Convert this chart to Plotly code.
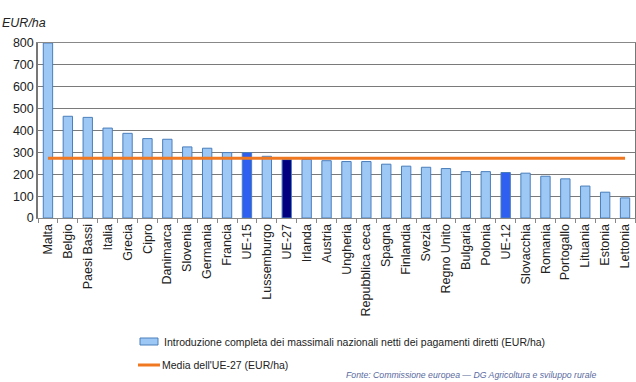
import plotly.graph_objects as go

categories = ["Malta", "Belgio", "Paesi Bassi", "Italia", "Grecia", "Cipro", "Danimarca",
              "Slovenia", "Germania", "Francia", "UE-15", "Lussemburgo", "UE-27", "Irlanda",
              "Austria", "Ungheria", "Repubblica ceca", "Spagna", "Finlandia", "Svezia",
              "Regno Unito", "Bulgaria", "Polonia", "UE-12", "Slovacchia", "Romania",
              "Portogallo", "Lituania", "Estonia", "Lettonia"]
values = [800, 465, 460, 411, 387, 363, 360, 325, 319, 299, 299, 282, 267, 268,
          262, 258, 258, 246, 237, 232, 226, 212, 212, 208, 205, 191, 179, 146, 118, 92]
eu27_mean = [273] * len(categories)
y_ticks = [0, 100, 200, 300, 400, 500, 600, 700, 800]

bar_name = "Introduzione completa dei massimali nazionali netti dei pagamenti diretti (EUR/ha)"
line_name = "Media dell'UE-27 (EUR/ha)"
source = "Fonte: Commissione europea — DG Agricoltura e sviluppo rurale"

W, H = 636, 382
L, R, T, B = 38, 1, 43, 164
PW, PH = W - L - R, H - T - B

def px_x(px):
    return (px - L) / PW

def px_y(py):
    return (H - B - py) / PH

light = "#9dc8f5"
border = "#4a7ebb"
orange = "#f07820"
colors = []
for c in categories:
    if c in ("UE-15", "UE-12"):
        colors.append("#2f5ff0")
    elif c == "UE-27":
        colors.append("#000080")
    else:
        colors.append(light)

fig = go.Figure()
fig.add_trace(go.Bar(
    x=categories, y=values,
    marker=dict(color=colors, line=dict(color=border, width=1)),
    name=bar_name, showlegend=False,
))
fig.add_trace(go.Scatter(
    x=categories, y=eu27_mean, mode="lines",
    line=dict(color=orange, width=3),
    name=line_name, showlegend=False,
))

# legend drawn manually (keys + labels)
shapes = [
    dict(type="rect", xref="paper", yref="paper",
         x0=px_x(140), x1=px_x(158), y0=px_y(345), y1=px_y(338),
         fillcolor=light, line=dict(color=border, width=1)),
    dict(type="line", xref="paper", yref="paper",
         x0=px_x(138), x1=px_x(160), y0=px_y(365), y1=px_y(365),
         line=dict(color=orange, width=3)),
]
annotations = [
    dict(text=bar_name, xref="paper", yref="paper", x=px_x(162), y=px_y(342),
         xanchor="left", yanchor="middle", showarrow=False,
         font=dict(size=10.5, color="#222")),
    dict(text=line_name, xref="paper", yref="paper", x=px_x(160), y=px_y(365),
         xanchor="left", yanchor="middle", showarrow=False,
         font=dict(size=10.5, color="#222")),
    dict(text="<i>EUR/ha</i>", xref="paper", yref="paper", x=px_x(0),
         y=px_y(23), xanchor="left", yanchor="middle", showarrow=False,
         font=dict(size=12.5, color="#222")),
    dict(text="<i>" + source + "</i>",
         xref="paper", yref="paper", x=px_x(598), y=px_y(375),
         xanchor="right", yanchor="middle", showarrow=False,
         font=dict(size=8.7, color="#5a6aa0")),
]

fig.update_layout(
    width=W, height=H,
    margin=dict(l=L, r=R, t=T, b=B, autoexpand=False),
    plot_bgcolor="white", paper_bgcolor="white",
    font=dict(family="Liberation Sans, Arial, sans-serif", size=11, color="#222"),
    bargap=0.53,
    showlegend=False,
    shapes=shapes,
    annotations=annotations,
)
fig.update_xaxes(
    type="category", tickangle=-90, tickson="boundaries", ticks="outside",
    ticklen=4, tickcolor="#888", showline=True, linecolor="#888", linewidth=1,
    mirror=True, showgrid=False, tickfont=dict(size=12.5, color="#222"),
    range=[-0.5, len(categories) - 0.5],
)
fig.update_yaxes(
    range=[0, 800], tickvals=y_ticks, showgrid=True, gridcolor="#7a7a7a", gridwidth=1,
    showline=True, linecolor="#777", linewidth=1.5, mirror=True, zeroline=False,
    tickfont=dict(size=12.5, color="#222"), ticks="",
)

fig.write_html("out.html", config={"displayModeBar": False},
               post_script="document.body.style.margin='0';document.body.style.padding='0';")
